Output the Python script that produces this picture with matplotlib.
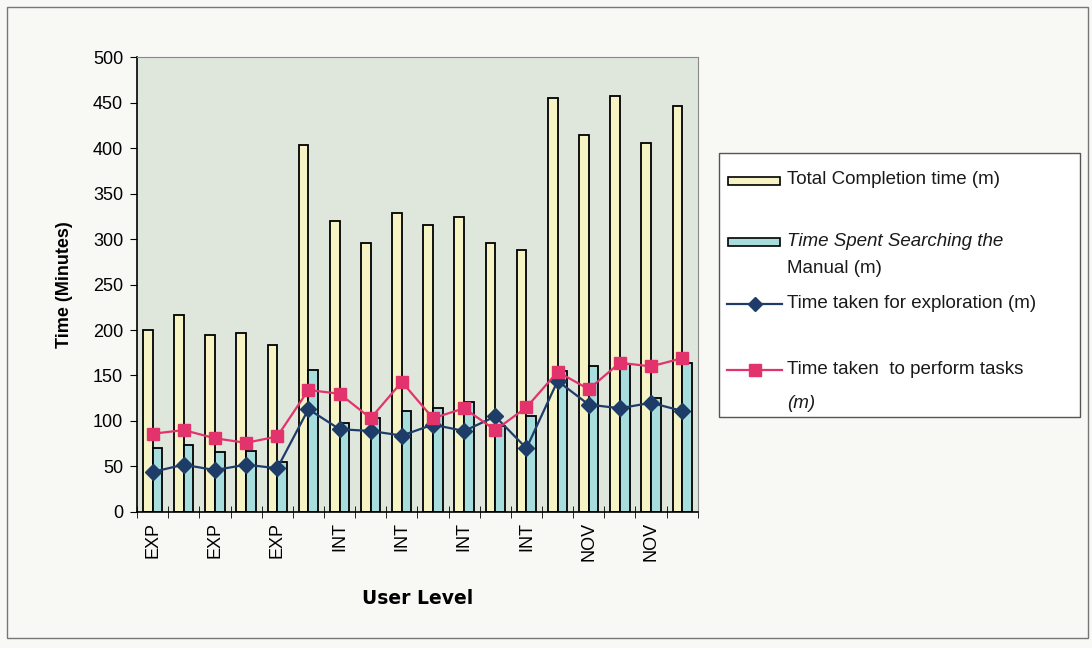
import numpy as np
import matplotlib.pyplot as plt
from matplotlib.patches import Rectangle
from matplotlib.lines import Line2D

## Data
levels = ['EXP'] * 5 + ['INT'] * 8 + ['NOV'] * 5
total_time = [200, 217, 195, 197, 184, 403, 320, 296, 329, 315,
              324, 296, 288, 455, 414, 457, 405, 446]
manual_time = [70, 74, 66, 67, 55, 156, 98, 103, 111, 114,
               121, 95, 105, 155, 160, 163, 125, 164]
explore_time = [44, 52, 46, 52, 48, 113, 91, 89, 84, 96,
                89, 105, 70, 144, 118, 114, 120, 111]
task_time = [86, 90, 81, 76, 83, 134, 130, 103, 143, 103,
             114, 90, 115, 154, 135, 164, 160, 169]

## Styling
yellow = '#f6f4c4'
cyan = '#a7dedd'
navy = '#1d3c68'
pink = '#e3336c'
font = 'Liberation Sans'

fig = plt.figure(figsize=(10.92, 6.48), dpi=100)
fig.patch.set_facecolor('#f8f9f5')
ax = fig.add_axes([0.1255, 0.2099, 0.5135, 0.7021])
ax.set_facecolor('#dfe6dc')

x = np.arange(len(levels))
w = 0.31
ax.bar(x - w / 2, total_time, width=w, color=yellow, edgecolor='black',
       linewidth=1.3, zorder=2)
ax.bar(x + w / 2, manual_time, width=w, color=cyan, edgecolor='black',
       linewidth=1.3, zorder=2)
ax.plot(x, explore_time, color=navy, lw=1.6, marker='D', ms=8,
        zorder=3)
ax.plot(x, task_time, color=pink, lw=1.6, marker='s', ms=9,
        zorder=4)

# Axes
ax.set_xlim(-0.5, len(levels) - 0.5)
ax.set_ylim(0, 500)
ax.set_yticks(np.arange(0, 501, 50))
ax.tick_params(axis='y', direction='out', length=5, labelsize=13,
               pad=5)
for lab in ax.get_yticklabels():
    lab.set_family(font)
ax.set_xticks(np.arange(-0.5, len(levels), 1), minor=True)
ax.set_xticks(x[::2])
ax.set_xticklabels(levels[::2], rotation=90, fontsize=13, family=font)
ax.tick_params(axis='x', which='major', length=0, pad=7)
ax.tick_params(axis='x', which='minor', direction='inout', length=8)
for s in ['top', 'right']:
    ax.spines[s].set_color('#8a8a8a')
for s in ['left', 'bottom']:
    ax.spines[s].set_color('black')
    ax.spines[s].set_linewidth(1.2)

ax.set_ylabel('Time (Minutes)', fontsize=13, fontweight='bold',
              family=font, labelpad=14)
ax.set_xlabel('User Level', fontsize=13.5, fontweight='bold',
              family='DejaVu Sans', labelpad=20)

# Legend box drawn by hand (uneven row spacing)
def fx(px):
    return px / 1092

def fy(py):
    return 1 - py / 648

fig.add_artist(Rectangle((fx(719), fy(417)), fx(1080) - fx(719),
                         fy(153) - fy(417), transform=fig.transFigure,
                         facecolor='white', edgecolor='#555555', lw=1))
fig.add_artist(Rectangle((fx(728), fy(185)), fx(52), fy(0) - fy(8),
                         transform=fig.transFigure, facecolor=yellow,
                         edgecolor='black', lw=1.2))
fig.add_artist(Rectangle((fx(728), fy(246)), fx(52), fy(0) - fy(8),
                         transform=fig.transFigure, facecolor=cyan,
                         edgecolor='black', lw=1.2))
fig.add_artist(Line2D([fx(727), fx(782)], [fy(304), fy(304)],
                      transform=fig.transFigure, color=navy, lw=1.6))
fig.add_artist(Line2D([fx(755)], [fy(304)], transform=fig.transFigure,
                      color=navy, marker='D', ms=7))
fig.add_artist(Line2D([fx(727), fx(782)], [fy(370), fy(370)],
                      transform=fig.transFigure, color=pink, lw=1.6))
fig.add_artist(Line2D([fx(755)], [fy(370)], transform=fig.transFigure,
                      color=pink, marker='s', ms=8))

leg_kw = dict(fontsize=13.5, family=font, va='center', ha='left',
              color='#1a1a1a')
fig.text(fx(787), fy(180), 'Total Completion time (m)', **leg_kw)
fig.text(fx(787), fy(242), 'Time Spent Searching the', style='italic',
         **leg_kw)
fig.text(fx(787), fy(268), 'Manual (m)', **leg_kw)
fig.text(fx(787), fy(304), 'Time taken for exploration (m)', **leg_kw)
fig.text(fx(787), fy(370), 'Time taken  to perform tasks', **leg_kw)
fig.text(fx(787), fy(404), '(m)', style='italic', **leg_kw)

# Outer chart border
fig.add_artist(Rectangle((fx(7), fy(638)), fx(1081), fy(0) - fy(631),
                         transform=fig.transFigure, fill=False,
                         edgecolor='#777777', lw=1))

fig.savefig('out.png', dpi=100, facecolor=fig.get_facecolor())
